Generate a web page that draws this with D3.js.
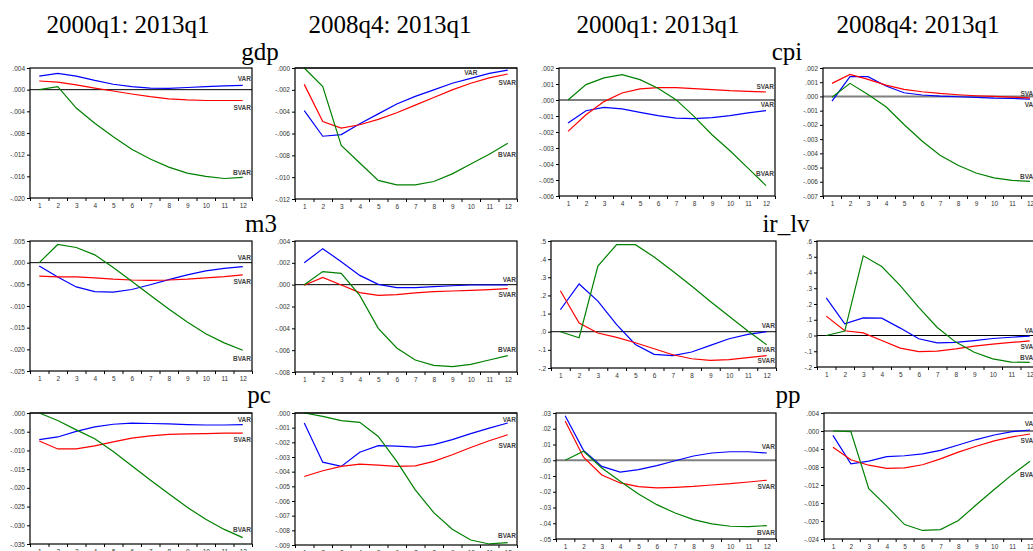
<!DOCTYPE html>
<html>
<head>
<meta charset="utf-8">
<script src="https://cdn.jsdelivr.net/npm/d3@7"></script>
<style>
body { margin: 0; background: #fff; }
svg text { font-family: Arial, "Liberation Sans", sans-serif; }
</style>
</head>
<body>
<svg id="chart" width="1033" height="551"></svg>
<script>
var horizons = [1, 2, 3, 4, 5, 6, 7, 8, 9, 10, 11, 12]
var series_names = ["VAR", "SVAR", "BVAR"]
var series_colors = ["#0000ff", "#ff0000", "#008000"]
var periods = ["2000q1: 2013q1", "2008q4: 2013q1", "2000q1: 2013q1", "2008q4: 2013q1"]
var variables = ["gdp", "cpi", "m3", "ir_lv", "pc", "pp"]

// gdp
var gdp_00_var = [.0025, .0030, .0025, .0017, .0010, .00055, .0003, .00025, .0004, .00055, .0007, .0008]
var gdp_00_svar = [.0016, .0014, .0009, .0003, -.00025, -.0008, -.0013, -.0017, -.0019, -.0020, -.0020, -.0020]
var gdp_00_bvar = [0, .00055, -.0034, -.0062, -.0087, -.0110, -.0128, -.0143, -.0154, -.0160, -.0164, -.0162]
var gdp_00_ticks = [.004, 0, -.004, -.008, -.012, -.016, -.020]

var gdp_08_var = [-.0039, -.00625, -.0061, -.0051, -.0042, -.0033, -.0026, -.0020, -.0014, -.00095, -.0005, -.0002]
var gdp_08_svar = [-.0015, -.0049, -.0055, -.0052, -.0047, -.0041, -.0034, -.0027, -.0020, -.0014, -.0009, -.00055]
var gdp_08_bvar = [0, -.0017, -.0071, -.0087, -.0103, -.0107, -.0107, -.0104, -.0097, -.0088, -.0079, -.0069]
var gdp_08_ticks = [0, -.002, -.004, -.006, -.008, -.010, -.012]

// cpi
var cpi_00_var = [-.00144, -.00067, -.00046, -.00056, -.00077, -.00098, -.00113, -.00117, -.0011, -.00098, -.00081, -.00067]
var cpi_00_svar = [-.00196, -.00092, -.0001, .00044, .00069, .00077, .00077, .00071, .00065, .00058, .00054, .0005]
var cpi_00_bvar = [0, .00096, .00138, .00159, .00127, .00073, .00002, -.00102, -.00217, -.00317, -.00426, -.00535]
var cpi_00_ticks = [.002, .001, 0, -.001, -.002, -.003, -.004, -.005, -.006]

var cpi_08_var = [-.00033, .00139, .00139, .00073, .00026, .0001, .00002, -.00002, -.00007, -.00012, -.00014, -.00019]
var cpi_08_svar = [.00092, .00155, .0012, .0008, .0005, .00033, .00021, .00012, .00005, 0, -.00005, -.0001]
var cpi_08_bvar = [-.00005, .00092, .00014, -.00073, -.00197, -.00313, -.00414, -.00484, -.00538, -.00573, -.0059, -.00597]
var cpi_08_ticks = [.002, .001, 0, -.001, -.002, -.003, -.004, -.005, -.006, -.007]

// m3
var m3_00_var = [-.00077, -.0033, -.0056, -.0067, -.0068, -.0062, -.0051, -.0039, -.0028, -.0019, -.0013, -.0009]
var m3_00_svar = [-.0031, -.0033, -.0033, -.0035, -.0038, -.0040, -.0041, -.0040, -.0038, -.0035, -.0032, -.0028]
var m3_00_bvar = [0, .0042, .0035, .0018, -.0011, -.0043, -.0075, -.0107, -.0137, -.0164, -.0185, -.0202]
var m3_00_ticks = [.005, 0, -.005, -.010, -.015, -.020, -.025]

var m3_08_var = [.0020, .0033, .0021, .00085, .00003, -.00027, -.00027, -.00018, -.0001, -.00003, -.00003, -.00003]
var m3_08_svar = [-.00006, .00067, -.00003, -.00073, -.00098, -.00092, -.00076, -.00064, -.00058, -.00052, -.00046, -.00037]
var m3_08_bvar = [0, .0012, .00104, -.00098, -.0040, -.0058, -.0069, -.0074, -.0075, -.0073, -.0069, -.0065]
var m3_08_ticks = [.004, .002, 0, -.002, -.004, -.006, -.008]

// ir_lv
var ir_00_var = [.121, .263, .169, .039, -.070, -.125, -.132, -.112, -.075, -.039, -.015, 0]
var ir_00_svar = [.226, .048, -.007, -.031, -.061, -.094, -.127, -.149, -.158, -.154, -.143, -.132]
var ir_00_bvar = [0, -.033, .362, .480, .480, .412, .333, .252, .167, .085, .004, -.072]
var ir_00_ticks = [.5, .4, .3, .2, .1, 0, -.1, -.2]

var ir_08_var = [.239, .074, .112, .110, .047, -.021, -.047, -.044, -.032, -.019, -.011, -.004]
var ir_08_svar = [.123, .030, .017, -.032, -.080, -.102, -.099, -.085, -.068, -.055, -.044, -.034]
var ir_08_bvar = [0, .028, .506, .438, .317, .178, .051, -.042, -.106, -.148, -.169, -.171]
var ir_08_ticks = [.6, .5, .4, .3, .2, .1, 0, -.1, -.2]

// pc
var pc_00_var = [-.0071, -.0064, -.0049, -.0037, -.0030, -.0027, -.0028, -.0029, -.0031, -.0032, -.0032, -.0031]
var pc_00_svar = [-.0075, -.0096, -.0096, -.0088, -.0077, -.0067, -.0061, -.0057, -.0056, -.0055, -.0054, -.0054]
var pc_00_bvar = [0, -.0020, -.0045, -.0069, -.0103, -.0141, -.0179, -.0216, -.0252, -.0284, -.0311, -.0333]
var pc_00_ticks = [0, -.005, -.010, -.015, -.020, -.025, -.030, -.035]

var pc_08_var = [-.00068, -.00335, -.00364, -.00267, -.00223, -.00226, -.00232, -.00216, -.00182, -.00141, -.00103, -.00068]
var pc_08_svar = [-.00433, -.00394, -.00364, -.00349, -.00355, -.00364, -.0036, -.0033, -.00285, -.00235, -.00189, -.00148]
var pc_08_bvar = [0, -.00023, -.00052, -.00064, -.0016, -.0033, -.00524, -.00679, -.00793, -.00866, -.00893, -.00884]
var pc_08_ticks = [0, -.001, -.002, -.003, -.004, -.005, -.006, -.007, -.008, -.009]

// pp
var pp_00_var = [.0283, .0063, -.0039, -.0075, -.0060, -.0034, -.0003, .0027, .0046, .0054, .0054, .0046]
var pp_00_svar = [.0249, .0019, -.0094, -.0144, -.0168, -.0176, -.0172, -.0166, -.0157, -.0149, -.0138, -.0127]
var pp_00_bvar = [0, .0057, -.0049, -.0134, -.0214, -.0282, -.0335, -.0377, -.0404, -.0419, -.0421, -.0415]
var pp_00_ticks = [.03, .02, .01, 0, -.01, -.02, -.03, -.04, -.05]

var pp_08_var = [-.00096, -.0073, -.0067, -.0057, -.0055, -.0051, -.0043, -.0031, -.0019, -.00089, -.00015, .00022]
var pp_08_svar = [-.0036, -.0064, -.0076, -.0083, -.0082, -.0075, -.0062, -.0047, -.0034, -.0022, -.0013, -.00067]
var pp_08_bvar = [0, -.00015, -.0128, -.0167, -.0208, -.0221, -.0219, -.0199, -.0164, -.0130, -.0097, -.0067]
var pp_08_ticks = [.004, 0, -.004, -.008, -.012, -.016, -.020, -.024]

// panel layout: frame = [left, top, right, bottom], labels = [x or null, dy] per series
var panels = [
    { vals: [gdp_00_var, gdp_00_svar, gdp_00_bvar], ticks: gdp_00_ticks, dec: 3, frame: [30, 68, 252, 198], zero: 0, labels: [[null, -6.5], [null, 7], [null, -5]] },
    { vals: [gdp_08_var, gdp_08_svar, gdp_08_bvar], ticks: gdp_08_ticks, dec: 3, frame: [295, 68, 517, 199], zero: 0, labels: [[10, -5.5], [null, 8.5], [null, 11]] },
    { vals: [cpi_00_var, cpi_00_svar, cpi_00_bvar], ticks: cpi_00_ticks, dec: 3, frame: [559, 68, 775, 196], zero: 0, labels: [[null, -5.5], [null, -5.5], [null, -12]] },
    { vals: [cpi_08_var, cpi_08_svar, cpi_08_bvar], ticks: cpi_08_ticks, dec: 3, frame: [823, 68, 1039, 196], zero: 1, labels: [[null, 5.5], [null, -4.5], [null, -5]] },
    { vals: [m3_00_var, m3_00_svar, m3_00_bvar], ticks: m3_00_ticks, dec: 3, frame: [30, 241, 252, 371], zero: 0, labels: [[null, -8.5], [null, 6.5], [null, 9]] },
    { vals: [m3_08_var, m3_08_svar, m3_08_bvar], ticks: m3_08_ticks, dec: 3, frame: [295, 241, 517, 372], zero: 0, labels: [[null, -5], [null, 6], [null, -5.5]] },
    { vals: [ir_00_var, ir_00_svar, ir_00_bvar], ticks: ir_00_ticks, dec: 1, frame: [551, 241, 776, 368], zero: 0, labels: [[null, -6], [null, 5.5], [null, 5]] },
    { vals: [ir_08_var, ir_08_svar, ir_08_bvar], ticks: ir_08_ticks, dec: 1, frame: [817, 241, 1039, 367], zero: 0, labels: [[null, -5], [null, 6], [null, -4.5]] },
    { vals: [pc_00_var, pc_00_svar, pc_00_bvar], ticks: pc_00_ticks, dec: 3, frame: [30, 413, 252, 544], zero: 0, labels: [[null, -5], [null, 7], [null, -7.5]] },
    { vals: [pc_08_var, pc_08_svar, pc_08_bvar], ticks: pc_08_ticks, dec: 3, frame: [295, 413, 517, 545], zero: 0, labels: [[null, -3.5], [null, 11], [null, -6.5]] },
    { vals: [pp_00_var, pp_00_svar, pp_00_bvar], ticks: pp_00_ticks, dec: 2, frame: [556, 413, 776, 539], zero: 1, labels: [[null, -6.5], [null, 6.5], [null, 7.5]] },
    { vals: [pp_08_var, pp_08_svar, pp_08_bvar], ticks: pp_08_ticks, dec: 3, frame: [824, 413, 1039, 539], zero: 1, labels: [[null, -6], [null, 6.5], [null, 13.5]] }
]

var header_x = [128, 390, 658, 918]
var title_pos = [[260, 60], [787, 60], [261, 232], [786, 232], [259, 403], [788, 403]]

var svg = d3.select("#chart")

function fmt_tick(v, dec) {
    return v.toFixed(dec).replace(/^(-?)0\./, "$1.")
}

// column headers and variable names
svg.selectAll(".period")
    .data(periods)
    .enter().append("text")
    .attr("x", function (d, i) { return header_x[i] })
    .attr("y", 33)
    .attr("text-anchor", "middle")
    .style("font-family", "'Liberation Serif', 'Times New Roman', serif")
    .style("font-size", "25px")
    .text(function (d) { return d })

svg.selectAll(".varname")
    .data(variables)
    .enter().append("text")
    .attr("x", function (d, i) { return title_pos[i][0] })
    .attr("y", function (d, i) { return title_pos[i][1] })
    .attr("text-anchor", "middle")
    .style("font-family", "'Liberation Serif', 'Times New Roman', serif")
    .style("font-size", "25px")
    .text(function (d) { return d })

function draw_panel(p) {
    var f = p.frame
    var ticks = p.ticks
    var x = d3.scaleLinear().domain([0.5, 12.5]).range([f[0], f[2]])
    var y = d3.scaleLinear().domain([d3.min(ticks), d3.max(ticks)]).range([f[3], f[1]])
    var g = svg.append("g")

    // y axis
    var ya = g.append("g")
        .attr("transform", `translate(${f[0]},0)`)
        .call(d3.axisLeft(y).tickValues(ticks).tickSize(3).tickPadding(2)
            .tickFormat(function (d) { return fmt_tick(d, p.dec) }))
    ya.select(".domain").remove()

    // x axis: labels at horizons, marks between them
    var xa = g.append("g")
        .attr("transform", `translate(0,${f[3]})`)
        .call(d3.axisBottom(x).tickValues(horizons).tickSize(0).tickPadding(5))
    xa.select(".domain").remove()
    var xm = g.append("g")
        .attr("transform", `translate(0,${f[3]})`)
        .call(d3.axisBottom(x).tickValues(d3.range(0.5, 13, 1)).tickSize(3).tickFormat(""))
    xm.select(".domain").remove()

    g.selectAll(".tick text").attr("fill", "#333").style("font-size", "6.5px")
    g.selectAll(".tick line").attr("stroke", "#000")

    // zero line
    g.append("line")
        .attr("x1", f[0]).attr("x2", f[2])
        .attr("y1", y(0)).attr("y2", y(0))
        .attr("stroke", p.zero ? "#808080" : "#000")
        .attr("stroke-width", p.zero ? 2 : 1)

    var line = d3.line()
        .x(function (d, i) { return x(horizons[i]) })
        .y(function (d) { return y(d) })

    p.vals.forEach(function (vals, s) {
        g.append("path")
            .datum(vals)
            .attr("d", line)
            .attr("fill", "none")
            .attr("stroke", series_colors[s])
            .attr("stroke-width", 1.2)

        var lab = p.labels[s]
        var at = lab[0] == null ? 12 : lab[0]
        g.append("text")
            .attr("x", lab[0] == null ? f[2] - 1 : x(at))
            .attr("y", y(vals[at - 1]) + lab[1])
            .attr("dy", "0.35em")
            .attr("text-anchor", lab[0] == null ? "end" : "middle")
            .attr("fill", "#444")
            .style("font-size", "6.5px")
            .style("font-weight", "bold")
            .text(series_names[s])
    })

    // frame
    g.append("rect")
        .attr("x", f[0]).attr("y", f[1])
        .attr("width", f[2] - f[0]).attr("height", f[3] - f[1])
        .attr("fill", "none")
        .attr("stroke", "#000")
        .attr("stroke-width", 1.2)
}

panels.forEach(draw_panel)
</script>
</body>
</html>
